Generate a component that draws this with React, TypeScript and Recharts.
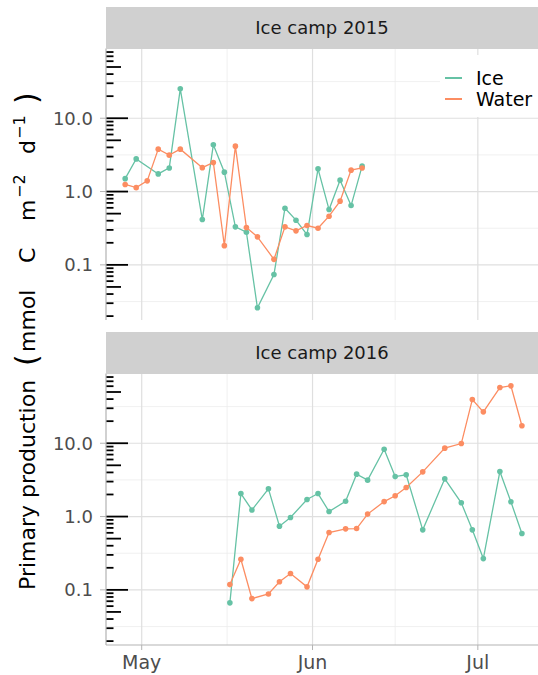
import React from "react";
import { LineChart, Line, XAxis, YAxis, ReferenceLine, Legend } from "recharts";

const FONT = "'DejaVu Sans', sans-serif";
const ICE_COLOR = "#66c2a5";
const WATER_COLOR = "#fc8d62";

// dates as MM-DD, values in mmol C m-2 d-1
const ice2015Dates = ["04-28", "04-30", "05-04", "05-06", "05-08", "05-12", "05-14", "05-16", "05-18", "05-20", "05-22", "05-25", "05-27", "05-29", "05-31", "06-02", "06-04", "06-06", "06-08", "06-10"];
const ice2015Values = [1.5, 2.79, 1.74, 2.1, 25.2, 0.415, 4.34, 1.84, 0.33, 0.279, 0.026, 0.074, 0.593, 0.407, 0.259, 2.04, 0.568, 1.43, 0.644, 2.22];

const water2015Dates = ["04-28", "04-30", "05-02", "05-04", "05-06", "05-08", "05-12", "05-14", "05-16", "05-18", "05-20", "05-22", "05-25", "05-27", "05-29", "05-31", "06-02", "06-04", "06-06", "06-08", "06-10"];
const water2015Values = [1.25, 1.13, 1.4, 3.79, 3.14, 3.79, 2.12, 2.49, 0.183, 4.16, 0.323, 0.241, 0.119, 0.33, 0.291, 0.344, 0.316, 0.461, 0.74, 1.96, 2.1];

const dates2016 = ["05-17", "05-19", "05-21", "05-24", "05-26", "05-28", "05-31", "06-02", "06-04", "06-07", "06-09", "06-11", "06-14", "06-16", "06-18", "06-21", "06-25", "06-28", "06-30", "07-02", "07-05", "07-07", "07-09"];
const ice2016Values = [0.0665, 2.06, 1.23, 2.39, 0.74, 0.97, 1.71, 2.06, 1.17, 1.62, 3.79, 3.14, 8.3, 3.51, 3.71, 0.659, 3.27, 1.54, 0.659, 0.267, 4.11, 1.59, 0.586];
const water2016Values = [0.118, 0.262, 0.076, 0.088, 0.129, 0.167, 0.11, 0.262, 0.605, 0.68, 0.686, 1.08, 1.6, 1.92, 2.49, 4.07, 8.57, 9.9, 39.5, 26.8, 57.5, 60.7, 17.3];

// axis setup (x = days since 1 May)
const monthTicks = [0, 31, 61];
const monthLabels = ["May", "Jun", "Jul"];
const minorDays = [15.5, 46];
const yTicks = [0.1, 1, 10];
const yMinor = [0.0316, 0.316, 3.16, 31.6];
const Y_DOMAIN = [0.0177, 89.4];
const X_DOMAIN = [-6.48, 71.92];
const decades = [0.01, 0.1, 1, 10];
const multipliers = [1, 2, 3, 4, 5, 6, 7, 8, 9];

function dayOffset(md: string) {
  const [m, d] = md.split("-").map(Number);
  return (Date.UTC(2000, m - 1, d) - Date.UTC(2000, 4, 1)) / 86400000;
}

const toSeries = (dates: string[], values: number[]) =>
  dates.map((d, i) => ({ day: dayOffset(d), value: values[i] }));

const ice2015 = toSeries(ice2015Dates, ice2015Values);
const water2015 = toSeries(water2015Dates, water2015Values);
const ice2016 = toSeries(dates2016, ice2016Values);
const water2016 = toSeries(dates2016, water2016Values);

const logTicks = decades.flatMap((d) => multipliers.map((m) => ({ v: m * d, m })));

const LegendBox = ({ payload }: any) => (
  <div style={{ position: "relative", width: 98, height: 62, background: "#fff" }}>
    {(payload || []).map((p: any, i: number) => (
      <div key={p.value} style={{ position: "absolute", left: 0, top: 13 + i * 20.4, height: 20.4, display: "flex", alignItems: "center" }}>
        <svg width={36} height={20}>
          <line x1={5} x2={22} y1={10} y2={10} stroke={p.color} strokeWidth={2} />
        </svg>
        <span style={{ fontSize: 19, fontFamily: FONT, color: "#000", lineHeight: "20px" }}>{p.value}</span>
      </div>
    ))}
  </div>
);

function Panel({ title, top, height, ice, water, showX, showLegend }: any) {
  return (
    <>
      <div style={{ position: "absolute", left: 0, top }}>
        <LineChart width={538} height={height} margin={{ top: 48.5, right: 0, bottom: 0, left: 0 }}>
          {yMinor.map((v) => (
            <ReferenceLine key={"ym" + v} y={v} stroke="#ececec" strokeWidth={0.8} />
          ))}
          {minorDays.map((v) => (
            <ReferenceLine key={"xm" + v} x={v} stroke="#ececec" strokeWidth={0.8} />
          ))}
          {yTicks.map((v) => (
            <ReferenceLine key={"y" + v} y={v} stroke="#dfdfdf" strokeWidth={1.2} />
          ))}
          {monthTicks.map((v) => (
            <ReferenceLine key={"x" + v} x={v} stroke="#dfdfdf" strokeWidth={1.2} />
          ))}
          {logTicks.map(({ v, m }) => {
            const len = m === 1 ? 22 : m === 5 ? 15 : 7.5;
            return (
              <ReferenceLine
                key={"lt" + v}
                y={v}
                shape={(p: any) => {
                  const x0 = Math.min(p.x1, p.x2);
                  return <line x1={x0} x2={x0 + len} y1={p.y1} y2={p.y1} stroke="#000" strokeWidth={1.8} />;
                }}
              />
            );
          })}
          <XAxis
            type="number"
            dataKey="day"
            domain={X_DOMAIN}
            allowDataOverflow
            ticks={monthTicks}
            tickFormatter={(v) => monthLabels[monthTicks.indexOf(v)]}
            height={showX ? 30 : 0}
            tick={showX ? { fill: "#4d4d4d", fontSize: 19, fontFamily: FONT } : false}
            tickLine={showX ? { stroke: "#b3b3b3" } : false}
            tickSize={5}
            tickMargin={6}
            axisLine={{ stroke: "#b3b3b3", strokeWidth: 1.2 }}
          />
          <YAxis
            scale="log"
            dataKey="value"
            domain={Y_DOMAIN}
            allowDataOverflow
            ticks={yTicks}
            tickFormatter={(v) => Number(v).toFixed(1)}
            width={106}
            tick={{ fill: "#4d4d4d", fontSize: 18, fontFamily: FONT }}
            tickLine={{ stroke: "#b3b3b3" }}
            tickSize={6}
            tickMargin={7}
            axisLine={{ stroke: "#b3b3b3", strokeWidth: 1.2 }}
          />
          {showLegend && (
            <Legend
              layout="vertical"
              align="center"
              verticalAlign="middle"
              content={<LegendBox />}
              wrapperStyle={{ left: 440, top: 55, width: 98, height: 62 }}
            />
          )}
          <Line
            data={ice}
            dataKey="value"
            name="Ice"
            stroke={ICE_COLOR}
            strokeWidth={1.3}
            dot={{ r: 2.8, fill: ICE_COLOR, stroke: ICE_COLOR, strokeWidth: 0 }}
            activeDot={false}
            isAnimationActive={false}
          />
          <Line
            data={water}
            dataKey="value"
            name="Water"
            stroke={WATER_COLOR}
            strokeWidth={1.3}
            dot={{ r: 2.8, fill: WATER_COLOR, stroke: WATER_COLOR, strokeWidth: 0 }}
            activeDot={false}
            isAnimationActive={false}
          />
        </LineChart>
      </div>
      <div
        style={{
          position: "absolute",
          left: 106,
          top: top + 7,
          width: 432,
          height: 41.5,
          background: "#d0d0d0",
          color: "#1a1a1a",
          fontFamily: FONT,
          fontSize: 18,
          display: "flex",
          alignItems: "center",
          justifyContent: "center",
        }}
      >
        {title}
      </div>
    </>
  );
}

export default function App() {
  // y-axis title pieces, placed along the rotated baseline (page y where each piece starts)
  const mainY = 35;
  const supY = 25;
  return (
    <div style={{ position: "absolute", left: 0, top: 0, width: 538, height: 675, background: "#fff", overflow: "hidden" }}>
      <Panel title="Ice camp 2015" top={0} height={320} ice={ice2015} water={water2015} showX={false} showLegend />
      <Panel title="Ice camp 2016" top={325} height={350} ice={ice2016} water={water2016} showX showLegend={false} />
      <svg style={{ position: "absolute", left: 0, top: 0 }} width={60} height={675}>
        <text transform="rotate(-90)" fontFamily={FONT} fontSize={22} fill="#000">
          <tspan x={-590} y={mainY}>Primary production</tspan>
          <tspan x={-366} y={mainY + 2} fontSize={30}>(</tspan>
          <tspan x={-352} y={mainY}>mmol</tspan>
          <tspan x={-263} y={mainY}>C</tspan>
          <tspan x={-221} y={mainY}>m</tspan>
          <tspan x={-198} y={supY} fontSize={16}>{"\u22122"}</tspan>
          <tspan x={-154} y={mainY}>d</tspan>
          <tspan x={-139} y={supY} fontSize={16}>{"\u22121"}</tspan>
          <tspan x={-104} y={mainY + 2} fontSize={30}>)</tspan>
        </text>
      </svg>
    </div>
  );
}
